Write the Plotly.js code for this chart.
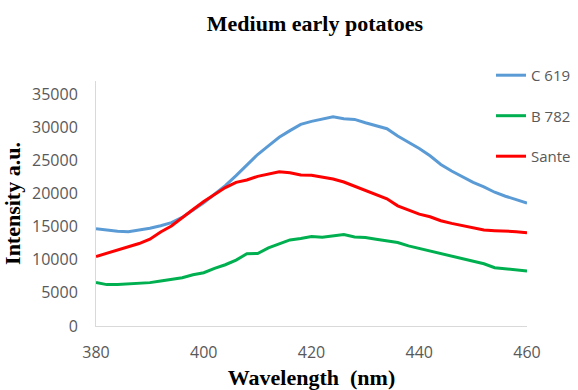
<!DOCTYPE html>
<html>
<head>
<meta charset="utf-8">
<script src="https://cdn.plot.ly/plotly-3.0.1.min.js"></script>
<style>html,body{margin:0;padding:0;background:#fff;}#chart{width:578px;height:390px;}</style>
</head>
<body>
<div id="chart"></div>
<script>
var wavelength = [380,382,384,386,388,390,392,394,396,398,400,402,404,406,408,410,412,414,416,418,420,422,424,426,428,430,432,434,436,438,440,442,444,446,448,450,452,454,456,458,460];
var c619 = [14700,14500,14300,14250,14450,14750,15150,15600,16400,17500,18600,19900,21200,22700,24300,25900,27200,28500,29500,30450,30900,31300,31600,31300,31200,30700,30300,29800,28700,27800,26800,25700,24400,23400,22500,21700,21000,20200,19600,19100,18550];
var b782 = [6570,6250,6250,6350,6350,6550,6800,7000,7300,7750,8050,8700,9250,9950,10900,10950,11800,12400,13000,13200,13500,13400,13650,13800,13450,13350,13100,12900,12600,12100,11700,11400,10900,10500,10150,9800,9400,8800,8600,8450,8300];
var sante = [10500,11000,11400,12000,12450,13100,14200,15100,16400,17600,18800,19800,20900,21700,22050,22600,23000,23300,23150,22800,22750,22500,22200,21750,21100,20500,19800,19200,18150,17500,16900,16500,15900,15500,15200,14800,14500,14400,14350,14250,14100];
var yTicks = [0,5000,10000,15000,20000,25000,30000,35000];
var xTicks = [380,400,420,440,460];

var traces = [
  {x: wavelength, y: c619, name: 'C 619', mode: 'lines', line: {color: '#5B9BD5', width: 3}, legendgroup: 'a'},
  {x: wavelength, y: b782, name: 'B 782', mode: 'lines', line: {color: '#00B050', width: 3}, legendgroup: 'b'},
  {x: wavelength, y: sante, name: 'Sante', mode: 'lines', line: {color: '#FF0000', width: 3}, legendgroup: 'c'}
];

var titleFont = {family: 'Liberation Serif', size: 22, color: '#000', weight: 'bold'};
var tickFont = {family: 'Open Sans', size: 16, color: '#595959'};

var layout = {
  width: 578, height: 390,
  margin: {l: 96, r: 51, t: 81, b: 64, autoexpand: false},
  paper_bgcolor: '#fff', plot_bgcolor: '#fff',
  title: {text: 'Medium early potatoes', font: titleFont, x: 315/578, xanchor: 'center', xref: 'container', y: 1 - 23/390, yanchor: 'middle', yref: 'container'},
  font: {family: 'Open Sans', color: '#595959'},
  xaxis: {
    range: [380, 460], tickvals: xTicks, ticktext: xTicks.map(String),
    showgrid: false, zeroline: false, showline: true, linecolor: '#D9D9D9', linewidth: 1,
    ticks: '', ticklabelstandoff: 12, tickfont: tickFont,
    title: {text: 'Wavelength&nbsp;&nbsp;(nm)', font: titleFont, standoff: 8}
  },
  yaxis: {
    range: [0, 37000], tickvals: yTicks, ticktext: yTicks.map(String),
    showgrid: false, zeroline: false, showline: true, linecolor: '#D9D9D9', linewidth: 1,
    ticks: '', ticklabelstandoff: 14, tickfont: tickFont,
    title: {text: 'Intensity a.u.', font: titleFont, standoff: 6}
  },
  showlegend: true,
  legend: {x: 0.9165, xanchor: 'left', y: 1.09, yanchor: 'top', traceorder: 'grouped', tracegroupgap: 18,
    font: {family: 'Open Sans', size: 15, color: '#595959'}, bgcolor: 'rgba(0,0,0,0)'}
};

Plotly.newPlot('chart', traces, layout, {displayModeBar: false, staticPlot: true});
</script>
</body>
</html>
